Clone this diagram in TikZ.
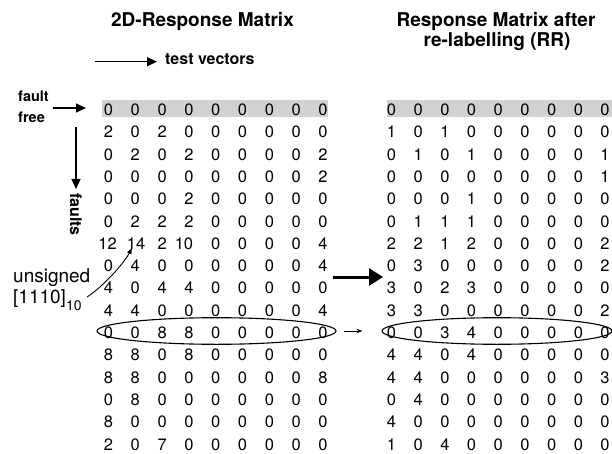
\documentclass[tikz,border=0pt]{standalone}
\usepackage{fontspec}
\setmainfont{TeX Gyre Heros}
\usetikzlibrary{arrows.meta,shapes.geometric}
\begin{document}
\begin{tikzpicture}[x=1pt,y=-1pt,
  num/.style={font=\fontsize{16.5}{16.5}\selectfont, inner sep=0pt, anchor=base},
  lbl/.style={font=\fontsize{14.5}{14.5}\selectfont\bfseries, inner sep=0pt, anchor=base west},
  ttl/.style={font=\fontsize{19}{19}\selectfont\bfseries, inner sep=0pt, anchor=base},
  note/.style={font=\fontsize{19}{19}\selectfont, inner sep=0pt, anchor=base west},
  arr/.style={line width=1.3pt, -{Triangle[length=10pt,width=9pt]}},
  bigarr/.style={line width=3pt, -{Triangle[length=14pt,width=17pt]}},
  smallarr/.style={line width=0.8pt, -{Stealth[length=6pt,width=4.5pt]}},
  ring/.style={draw, ellipse, line width=1.1pt, inner sep=0pt},
  band/.style={fill=black!18}
]
\useasboundingbox (0,0) rectangle (612,454);

% titles
\node[ttl] (t1) at (202.5,27) {2D-Response Matrix};
\node[ttl] (t2) at (496,27) {Response Matrix after};
\node[ttl] (t3) at (497,47) {re-labelling (RR)};

% grey fault-free bands
\fill[band] (102,100) rectangle (328,117.5);
\fill[band] (387,100) rectangle (612,117.5);

% left matrix
\foreach \row [count=\i] in {
 {0,0,0,0,0,0,0,0,0},
 {2,0,2,0,0,0,0,0,0},
 {0,2,0,2,0,0,0,0,2},
 {0,0,0,0,0,0,0,0,2},
 {0,0,0,2,0,0,0,0,0},
 {0,2,2,2,0,0,0,0,0},
 {12,14,2,10,0,0,0,0,4},
 {0,4,0,0,0,0,0,0,4},
 {4,0,4,4,0,0,0,0,0},
 {4,4,0,0,0,0,0,0,4},
 {0,0,8,8,0,0,0,0,0},
 {8,8,0,8,0,0,0,0,0},
 {8,8,0,0,0,0,0,0,8},
 {0,8,0,0,0,0,0,0,0},
 {8,0,0,0,0,0,0,0,0},
 {2,0,7,0,0,0,0,0,0}}{
  \foreach \v [count=\j] in \row {
    \pgfmathsetmacro\dx{(\i==7)*((\j==1)*(-1)+(\j==2)*0.7+(\j==4)*(-5))}
    \node[num] (L-\i-\j) at ({108.5+26.81*(\j-1)+\dx},{115.5+22.3*(\i-1)}) {\v};
  }
}

% right matrix
\foreach \row [count=\i] in {
 {0,0,0,0,0,0,0,0,0},
 {1,0,1,0,0,0,0,0,0},
 {0,1,0,1,0,0,0,0,1},
 {0,0,0,0,0,0,0,0,1},
 {0,0,0,1,0,0,0,0,0},
 {0,1,1,1,0,0,0,0,0},
 {2,2,1,2,0,0,0,0,2},
 {0,3,0,0,0,0,0,0,2},
 {3,0,2,3,0,0,0,0,0},
 {3,3,0,0,0,0,0,0,2},
 {0,0,3,4,0,0,0,0,0},
 {4,4,0,4,0,0,0,0,0},
 {4,4,0,0,0,0,0,0,3},
 {0,4,0,0,0,0,0,0,0},
 {4,0,0,0,0,0,0,0,0},
 {1,0,4,0,0,0,0,0,0}}{
  \foreach \v [count=\j] in \row {
    \node[num] (R-\i-\j) at ({391.5+26.69*(\j-1)},{115.5+22.3*(\i-1)}) {\v};
  }
}

% labels
\node[lbl, font=\fontsize{16}{16}\selectfont\bfseries] (tv) at (165,65) {test vectors};
\node[lbl] (ff1) at (18,102) {fault};
\node[lbl] (ff2) at (18,123) {free};
\node[font=\fontsize{16}{16}\selectfont\bfseries, inner sep=0pt, rotate=-90, anchor=west] (fl) at (76,193) {faults};
\node[note] (us) at (13,282) {unsigned};
\node[note] (bin) at (13,303) {[1110]\raisebox{-7pt}{\fontsize{14}{14}\selectfont 10}};

% direction arrows
\coordinate (tvA) at (95,61.7);
\coordinate (tvB) at (157,61.7);
\draw[arr] (tvA) -- (tvB);
\coordinate (ffA) at (53,108);
\coordinate (ffB) at (86,108);
\draw[arr] (ffA) -- (ffB);
\coordinate (fA) at (76,127);
\coordinate (fB) at (76,189);
\draw[arr] (fA) -- (fB);

% curved pointer to 14
\coordinate (cA) at (87,297);
\coordinate (cB) at (132,248);
\draw[line width=0.9pt, -{Triangle[length=6pt,width=4.5pt]}] (cA) .. controls (104,286) and (124,263) .. (cB);

% big arrow
\coordinate (bA) at (333,277);
\coordinate (bB) at (383,277);
\draw[bigarr] (bA) -- (bB);

% ellipses
\node[ring, minimum width=239pt, minimum height=26.6pt] (E1) at (216.5,331) {};
\node[ring, minimum width=230pt, minimum height=26.6pt] (E2) at (497,331) {};
\draw[smallarr, shorten <=7pt, shorten >=19pt] (E1.east) -- (E2.west);
\end{tikzpicture}
\end{document}
